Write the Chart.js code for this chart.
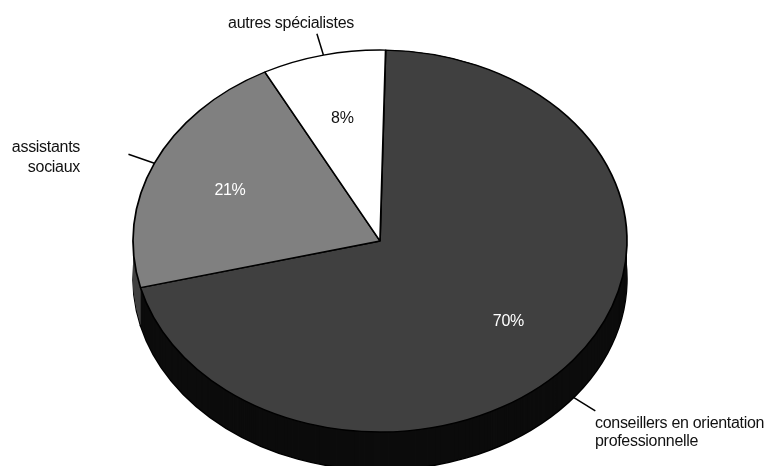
<!DOCTYPE html>
<html lang="fr">
<head>
<meta charset="utf-8">
<title>Répartition des spécialistes</title>
<script src="https://cdn.jsdelivr.net/npm/chart.js@4"></script>
<style>
  html, body { margin: 0; background: #fff; }
  #wrap { position: relative; width: 764px; height: 466px; overflow: hidden; }
</style>
</head>
<body>
<div id="wrap"><canvas id="pie" width="764" height="466"></canvas></div>
<script>
const categories = ["conseillers en orientation professionnelle", "assistants sociaux", "autres spécialistes"];
const shares = [70, 21, 8];
const topColors = ["#404040", "#808080", "#ffffff"];
const sideColors = ["#0c0c0c", "#404040", "#ffffff"];
const percentColors = ["#ffffff", "#ffffff", "#111111"];

const CENTER_X = 380;
const CENTER_Y = 241;
const RX = 247;
const RY = 191;
const DEPTH = 38;
const FONT = '16px "Liberation Sans", Arial, sans-serif';

// the doughnut controller only does circles, so squash it into an ellipse
function tilt(ctx, arc, dy = 0) {
  const r = arc.outerRadius;
  ctx.translate(CENTER_X, CENTER_Y + dy);
  ctx.scale(RX / r, RY / r);
  ctx.translate(-arc.x, -arc.y);
}

function midAngle(arc) {
  return (arc.startAngle + arc.endAngle) / 2;
}

function rimPoint(arc, factor) {
  const a = midAngle(arc);
  return { x: CENTER_X + Math.cos(a) * RX * factor, y: CENTER_Y + Math.sin(a) * RY * factor };
}

function drawText(ctx, lines, x, y, align, leading = 20) {
  ctx.textAlign = align;
  ctx.letterSpacing = "-0.3px";
  lines.forEach((line, i) => ctx.fillText(line, x, y + i * leading));
}

const tiltedPie = {
  id: "tiltedPie",
  beforeDatasetsDraw(chart) {
    const { ctx } = chart;
    const arcs = chart.getDatasetMeta(0).data;

    // side wall: the same wedges stacked downwards, deepest first
    for (let dy = DEPTH; dy >= 0; dy--) {
      arcs.forEach((arc, i) => {
        ctx.save();
        tilt(ctx, arc, dy);
        ctx.beginPath();
        ctx.moveTo(arc.x, arc.y);
        ctx.arc(arc.x, arc.y, arc.outerRadius, arc.startAngle, arc.endAngle);
        ctx.closePath();
        ctx.restore();
        ctx.fillStyle = sideColors[i];
        ctx.fill();
        if (dy === DEPTH) {
          ctx.strokeStyle = "#000";
          ctx.lineWidth = 1.5;
          ctx.stroke();
        }
      });
    }

    ctx.save();
    tilt(ctx, arcs[0]);
  },
  afterDatasetsDraw(chart) {
    const { ctx } = chart;
    ctx.restore();

    const arcs = chart.getDatasetMeta(0).data;

    // percentages inside the slices
    ctx.font = FONT;
    ctx.textBaseline = "alphabetic";
    arcs.forEach((arc, i) => {
      const p = rimPoint(arc, 0.665);
      ctx.fillStyle = percentColors[i];
      drawText(ctx, [shares[i] + "%"], p.x, p.y + 6, "center");
    });

    // leader lines, the big slice's starts from the bottom of its wall
    ctx.strokeStyle = "#000";
    ctx.lineWidth = 1.5;
    arcs.forEach((arc, i) => {
      const dy = i === 0 ? DEPTH - 1 : 0;
      const from = rimPoint(arc, 1);
      const to = rimPoint(arc, 1.115);
      ctx.beginPath();
      ctx.moveTo(from.x, from.y + dy);
      ctx.lineTo(to.x, to.y + dy);
      ctx.stroke();
    });

    ctx.fillStyle = "#111";
    drawText(ctx, ["conseillers en orientation", "professionnelle"], 595, 428, "left", 18);
    drawText(ctx, ["assistants", "sociaux"], 80, 152, "right");
    drawText(ctx, [categories[2]], 291, 28, "center");
  }
};

new Chart(document.getElementById("pie"), {
  type: "pie",
  plugins: [tiltedPie],
  data: {
    labels: categories,
    datasets: [{
      data: shares,
      backgroundColor: topColors,
      borderColor: "#000",
      borderWidth: 1.4
    }]
  },
  options: {
    responsive: false,
    animation: false,
    rotation: 1.3,
    layout: { padding: { left: 180, right: 184, top: 41, bottom: 25 } },
    plugins: { legend: { display: false }, tooltip: { enabled: false } },
    events: []
  }
});
</script>
</body>
</html>
